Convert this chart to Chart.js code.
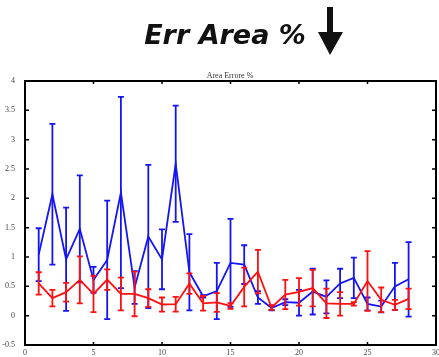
<!DOCTYPE html>
<html>
<head>
<meta charset="utf-8">
<script src="https://cdn.jsdelivr.net/npm/chart.js@4.4.1/dist/chart.umd.min.js"></script>
<style>
  html, body { margin: 0; padding: 0; background: #fff; }
  #wrap { width: 439px; height: 357px; }
</style>
</head>
<body>
<div id="wrap"><canvas id="errChart" width="439" height="357"></canvas></div>
<script>
// Data (error bars are symmetric: mean +/- err)
const xs = [1, 2, 3, 4, 5, 6, 7, 8, 9, 10, 11, 12, 13, 14, 15, 16, 17, 18, 19, 20, 21, 22, 23, 24, 25, 26, 27, 28];
const blueMean = [1.04, 2.07, 0.96, 1.48, 0.61, 0.95, 2.10, 0.48, 1.35, 0.96, 2.59, 0.74, 0.33, 0.42, 0.90, 0.87, 0.31, 0.13, 0.23, 0.22, 0.41, 0.32, 0.55, 0.645, 0.20, 0.155, 0.50, 0.62];
const blueErr = [0.45, 1.20, 0.88, 0.91, 0.22, 1.01, 1.63, 0.28, 1.22, 0.51, 0.99, 0.65, 0.02, 0.48, 0.75, 0.33, 0.11, 0.04, 0.05, 0.22, 0.39, 0.28, 0.25, 0.345, 0.11, 0.10, 0.40, 0.635];
const redMean = [0.55, 0.30, 0.40, 0.61, 0.37, 0.615, 0.37, 0.37, 0.30, 0.19, 0.195, 0.545, 0.21, 0.225, 0.165, 0.49, 0.75, 0.14, 0.36, 0.405, 0.47, 0.21, 0.20, 0.20, 0.59, 0.27, 0.185, 0.285];
const redErr = [0.19, 0.14, 0.16, 0.40, 0.31, 0.175, 0.28, 0.38, 0.15, 0.12, 0.125, 0.175, 0.125, 0.16, 0.05, 0.33, 0.37, 0.04, 0.25, 0.235, 0.31, 0.25, 0.20, 0.03, 0.51, 0.21, 0.085, 0.175];

const mainTitle = 'Err Area %';
const subTitle = 'Area Errore %';

const BLUE = '#1414f5';
const RED = '#ff1010';

// error bars, drawn right after their own dataset so red stays on top of blue
const errorBars = {
    id: 'errorBars',
    afterDatasetDraw(chart, args) {
        const ds = chart.data.datasets[args.index];
        if (!ds.errors) return;
        const { ctx, scales: { x, y } } = chart;
        ctx.save();
        ctx.strokeStyle = ds.borderColor;
        ctx.lineWidth = 1.8;
        ds.data.forEach((p, i) => {
            const px = x.getPixelForValue(p.x);
            const top = y.getPixelForValue(p.y + ds.errors[i]);
            const bot = y.getPixelForValue(p.y - ds.errors[i]);
            ctx.beginPath();
            ctx.moveTo(px, top); ctx.lineTo(px, bot);
            ctx.moveTo(px - 3, top); ctx.lineTo(px + 3, top);
            ctx.moveTo(px - 3, bot); ctx.lineTo(px + 3, bot);
            ctx.stroke();
        });
        ctx.restore();
    }
};

// frame, inward ticks and the headings
const frame = {
    id: 'frame',
    afterDraw(chart) {
        const { ctx, chartArea: a, scales: { x, y } } = chart;
        ctx.save();
        ctx.strokeStyle = '#000';
        ctx.lineWidth = 2;
        ctx.strokeRect(a.left, a.top, a.right - a.left, a.bottom - a.top);
        ctx.lineWidth = 1.5;
        ctx.beginPath();
        y.ticks.forEach(t => {
            const py = y.getPixelForValue(t.value);
            ctx.moveTo(a.left, py); ctx.lineTo(a.left + 4, py);
            ctx.moveTo(a.right, py); ctx.lineTo(a.right - 4, py);
        });
        x.ticks.forEach(t => {
            const px = x.getPixelForValue(t.value);
            ctx.moveTo(px, a.bottom); ctx.lineTo(px, a.bottom - 3);
            ctx.moveTo(px, a.top); ctx.lineTo(px, a.top + 3);
        });
        ctx.stroke();

        // big heading
        ctx.fillStyle = '#111';
        ctx.textAlign = 'center';
        ctx.textBaseline = 'alphabetic';
        ctx.font = 'italic bold 27px "DejaVu Sans"';
        ctx.fillText(mainTitle, 225, 44);

        // down arrow next to it
        ctx.beginPath();
        ctx.moveTo(327, 7); ctx.lineTo(333, 7); ctx.lineTo(333, 32);
        ctx.lineTo(343, 32); ctx.lineTo(330, 55); ctx.lineTo(318, 32);
        ctx.lineTo(327, 32); ctx.closePath();
        ctx.fill();

        ctx.fillStyle = '#333';
        ctx.font = '8px "Liberation Serif"';
        ctx.fillText(subTitle, 230, 78);
        ctx.restore();
    }
};

const ctx = document.getElementById('errChart').getContext('2d');
new Chart(ctx, {
    type: 'line',
    data: {
        datasets: [
            {
                label: 'blue',
                data: xs.map((v, i) => ({ x: v, y: blueMean[i] })),
                errors: blueErr,
                borderColor: BLUE,
                borderWidth: 1.8,
                pointRadius: 0,
                tension: 0,
                order: 2
            },
            {
                label: 'red',
                data: xs.map((v, i) => ({ x: v, y: redMean[i] })),
                errors: redErr,
                borderColor: RED,
                borderWidth: 1.8,
                pointRadius: 0,
                tension: 0,
                order: 1
            }
        ]
    },
    options: {
        responsive: false,
        animation: false,
        layout: { padding: { top: 81, right: 3, left: 0, bottom: 0 } },
        scales: {
            x: {
                type: 'linear',
                min: 0,
                max: 30,
                ticks: { stepSize: 5, color: '#444', padding: -5, font: { family: 'Liberation Serif', size: 8 } },
                grid: { display: false },
                border: { display: false },
                afterFit(s) { s.height = 12; }
            },
            y: {
                min: -0.5,
                max: 4,
                ticks: {
                    stepSize: 0.5,
                    color: '#444',
                    padding: 2,
                    font: { family: 'Liberation Serif', size: 8 },
                    callback: v => String(Math.round(v * 10) / 10)
                },
                grid: { display: false },
                border: { display: false },
                afterFit(s) { s.width = 25; }
            }
        },
        plugins: {
            legend: { display: false },
            tooltip: { enabled: false }
        }
    },
    plugins: [errorBars, frame]
});
</script>
</body>
</html>
